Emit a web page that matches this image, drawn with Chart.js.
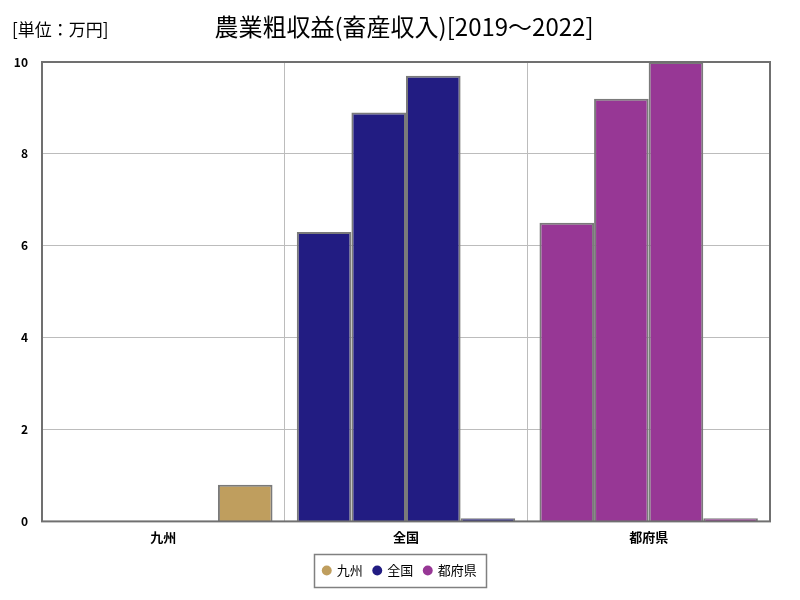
<!DOCTYPE html>
<html>
<head>
<meta charset="utf-8">
<script src="https://cdn.jsdelivr.net/npm/chart.js@4/dist/chart.umd.min.js"></script>
<style>
  body { margin: 0; background: #fff; }
  #wrap { width: 800px; height: 600px; }
</style>
</head>
<body>
<div id="wrap"><canvas id="chart1" width="800" height="600"></canvas></div>
<script>
// data
const categories = ['九州', '全国', '都府県'];
const years = ['2019', '2020', '2021', '2022'];
const v2019 = [0, 6.3, 6.5];
const v2020 = [0, 8.9, 9.2];
const v2021 = [0, 9.7, 10.0];
const v2022 = [0.8, 0.07, 0.07];
const yTicks = [0, 2, 4, 6, 8, 10];
const catColors = ['#bf9e5e', '#221c82', '#973795'];

const FONT = '"Noto Sans CJK JP", "Noto Sans", sans-serif';

// frame, legend box, title and unit label
const decor = {
    id: 'decor',
    afterLayout(chart) {
        // center legend on the canvas, not on the padded area
        chart.legend.left += 8;
        chart.legend.right += 8;
    },
    afterDraw(chart) {
        const c = chart.ctx;
        const a = chart.chartArea;
        c.save();
        c.strokeStyle = '#707070';
        c.lineWidth = 2;
        c.strokeRect(a.left, a.top, a.right - a.left, a.bottom - a.top);

        const boxes = chart.legend.legendHitBoxes;
        if (boxes && boxes.length) {
            const l = Math.min(...boxes.map(b => b.left)) - 9;
            const r = Math.max(...boxes.map(b => b.left + b.width)) + 9;
            const t = Math.min(...boxes.map(b => b.top)) - 10;
            const btm = Math.max(...boxes.map(b => b.top + b.height)) + 10;
            c.strokeStyle = '#808080';
            c.lineWidth = 1.5;
            c.strokeRect(Math.round(l) + 0.5, Math.round(t) + 0.5, Math.round(r - l), Math.round(btm - t));
        }

        c.fillStyle = '#000';
        c.textBaseline = 'middle';
        c.textAlign = 'left';
        c.font = '17px ' + FONT;
        c.fillText('[単位：万円]', 12, 30);
        c.textAlign = 'center';
        c.font = '24px ' + FONT;
        c.fillText('農業粗収益(畜産収入)[2019～2022]', 404, 27);
        c.restore();
    }
};

const ctx1 = document.getElementById('chart1');

new Chart(ctx1, {
    type: 'bar',
    data: {
        labels: categories,
        datasets: [v2019, v2020, v2021, v2022].map((d, i) => ({
            label: years[i],
            data: d,
            backgroundColor: catColors,
            borderColor: '#7a7a7a',
            borderWidth: 2,
            borderSkipped: 'bottom',
            barPercentage: 1,
            categoryPercentage: 0.9,
        })),
    },
    plugins: [decor],
    options: {
        responsive: false,
        animation: false,
        layout: {
            padding: { left: 14, right: 30, top: 62, bottom: 13 },
        },
        plugins: {
            title: { display: false },
            legend: {
                position: 'bottom',
                labels: {
                    usePointStyle: true,
                    pointStyle: 'circle',
                    boxWidth: 7,
                    boxHeight: 7,
                    color: '#000',
                    padding: 11,
                    font: { family: FONT, size: 13 },
                    generateLabels: () => categories.map((c, i) => ({
                        text: c,
                        fillStyle: catColors[i],
                        strokeStyle: catColors[i],
                        lineWidth: 0,
                        pointStyle: 'circle',
                        datasetIndex: 0,
                    })),
                },
                onClick: () => {},
            },
            tooltip: { enabled: false },
        },
        scales: {
            x: {
                grid: { color: '#bcbcbc', lineWidth: 1, offset: true, drawTicks: false },
                border: { display: false },
                ticks: {
                    color: '#000',
                    padding: 8,
                    font: { family: FONT, size: 13, weight: 'bold' },
                },
            },
            y: {
                min: 0,
                max: 10,
                afterBuildTicks: (axis) => { axis.ticks = yTicks.map(v => ({ value: v })); },
                afterFit: (axis) => { axis.width = 28; },
                grid: { color: '#bcbcbc', lineWidth: 1, drawTicks: false },
                border: { display: false },
                ticks: {
                    color: '#000',
                    padding: 14,
                    font: { family: FONT, size: 12, weight: 'bold' },
                },
            },
        },
    },
});
</script>
</body>
</html>
